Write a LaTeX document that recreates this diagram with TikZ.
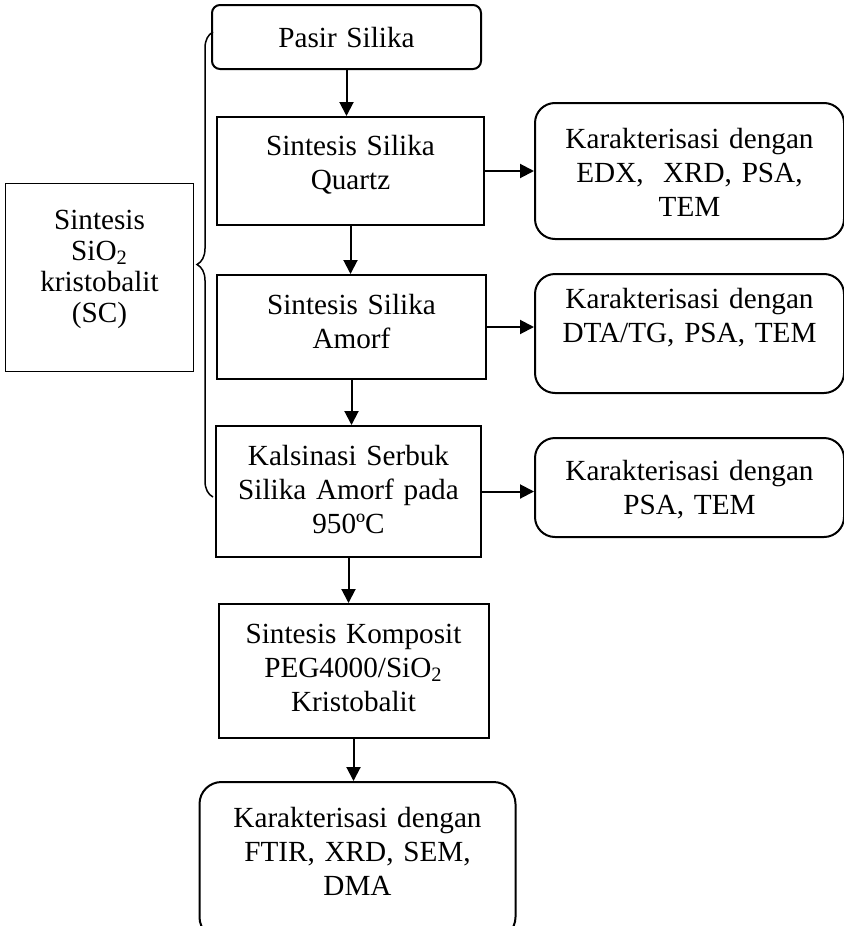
\documentclass[tikz,border=0pt]{standalone}
\usepackage{fontspec}
\setmainfont{Liberation Serif}
\usetikzlibrary{positioning, arrows.meta, decorations.pathreplacing}
\tikzset{
	box/.style = {draw, rectangle, align=center, inner sep=0pt, line width=1pt,
	 font=\fontsize{14.6pt}{17pt}\selectfont}}
\tikzset{
	rbox/.style = {box, rounded corners=10pt}}
\tikzset{
	boxsize/.style n args = {3}{text width=#1, text height=#2, text depth=#3}}
\tikzset{
	flow/.style = {-{Triangle[length=7pt, width=7pt]}, line width=1pt}}

\begin{document}
\begin{tikzpicture}[node distance=23pt]
\useasboundingbox (0,0) rectangle (422pt,-463pt);

% NODES
% main chain
\node (pasir) [box, rounded corners=4pt, boxsize={134.5pt}{21pt}{11pt}] at (173.25pt,-18.5pt) {Pasir Silika};
\node (quartz) [box, boxsize={133.5pt}{19pt}{35pt}, below=of pasir, xshift=2pt] {Sintesis Silika\\Quartz};
\node (amorf) [box, boxsize={134.5pt}{19.5pt}{32.5pt}, below=24pt of quartz, xshift=0.5pt] {Sintesis Silika\\Amorf};
\node (kalsin) [box, boxsize={132.5pt}{19.5pt}{46pt}, below=22.5pt of amorf, xshift=-1.5pt] {Kalsinasi Serbuk\\Silika Amorf pada\\950ºC};
\node (komposit) [box, boxsize={135pt}{19.5pt}{47.5pt}, below=22.5pt of kalsin, xshift=2.5pt] {Sintesis Komposit\\PEG4000/SiO\textsubscript{2}\\Kristobalit};
\node (final) [rbox, rounded corners=11pt, boxsize={158pt}{22.5pt}{56pt}, below=21pt of komposit, xshift=2pt] {Karakterisasi dengan\\FTIR, XRD, SEM,\\DMA};
% characterisation
\node (char1) [rbox, boxsize={154.5pt}{22.5pt}{45.5pt}, right=24.5pt of quartz] {Karakterisasi dengan\\EDX,~ XRD, PSA,\\TEM};
\node (char2) [rbox, boxsize={154.5pt}{17pt}{42.5pt}, below=16.5pt of char1] {Karakterisasi dengan\\DTA/TG, PSA, TEM};
\node (char3) [rbox, boxsize={154.5pt}{21pt}{28.5pt}, below=21.5pt of char2] {Karakterisasi dengan\\PSA, TEM};
% label
\node (sc) [box, line width=0.5pt, font=\fontsize{14.6pt}{15.5pt}\selectfont, boxsize={94pt}{23pt}{71pt}, left=11pt of amorf, yshift=25pt] {Sintesis\\SiO\textsubscript{2}\\kristobalit\\(SC)};
\coordinate (bracetop) at (106.5pt,-16pt);
\coordinate (bracebot) at (106.5pt,-248.5pt);

%CONNECTIONS
\draw [flow] (pasir) -- (pasir |- quartz.north);
\draw [flow] (quartz) -- (quartz |- amorf.north);
\draw [flow] (amorf) -- (amorf |- kalsin.north);
\draw [flow] (kalsin) -- (kalsin |- komposit.north);
\draw [flow] (komposit) -- (komposit |- final.north);
\draw [flow] (quartz) -- (quartz -| char1.west);
\draw [flow] (amorf) -- (amorf -| char2.west);
\draw [flow] (kalsin) -- (kalsin -| char3.west);
\draw [line width=0.75pt, decorate, decoration={brace, amplitude=8pt}] (bracebot) -- (bracetop);

\end{tikzpicture}
\end{document}
